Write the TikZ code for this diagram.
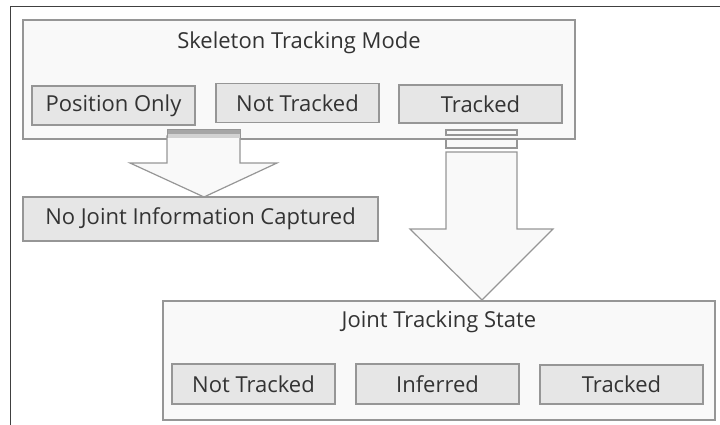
\documentclass[tikz,border=0pt]{standalone}
\usepackage{fontspec}
\setmainfont{Open Sans}
\definecolor{frameline}{HTML}{404040}
\definecolor{boxline}{HTML}{969696}
\definecolor{outerfill}{HTML}{F9F9F9}
\definecolor{innerfill}{HTML}{E6E6E6}
\definecolor{txt}{HTML}{333333}
\definecolor{barfill}{HTML}{A6A6A6}
\tikzset{
  outerbox/.style={draw=boxline, fill=outerfill, line width=1.2pt, inner sep=0pt},
  innerbox/.style={draw=boxline, fill=innerfill, line width=1.2pt, inner sep=0pt, text=txt, font=\fontsize{22}{25}\selectfont},
  label/.style={text=txt, font=\fontsize{22}{25}\selectfont, inner sep=0pt},
  blockarrow/.style={draw=boxline, fill=outerfill, line width=1.2pt, line join=miter},
}
\begin{document}
\begin{tikzpicture}[x=1pt,y=-1pt]
\useasboundingbox (0,0) rectangle (720,425);
% frame (top and left lines)
\draw[frameline, line width=1.5pt] (10.5,425) -- (10.5,6.5) -- (720,6.5);
% top box
\node[outerbox, minimum width=552pt, minimum height=119pt] (top) at (299,79.5) {};
\node[label] (toptitle) at (299,43) {Skeleton Tracking Mode};
\node[innerbox, minimum width=163pt, minimum height=39pt] (pos) at (113.5,105.5) {Position Only};
\node[innerbox, minimum width=163pt, minimum height=39pt] (nt1) at (297.5,103) {Not Tracked};
\node[innerbox, minimum width=163pt, minimum height=38pt] (tr1) at (480.5,104) {Tracked};
% no joint box
\node[innerbox, minimum width=355pt, minimum height=44pt] (nojoint) at (200.5,219) {No Joint Information Captured};
% bottom box
\node[outerbox, minimum width=552pt, minimum height=119pt] (bottom) at (439,360.5) {};
\node[label] (bottitle) at (439,322) {Joint Tracking State};
\node[innerbox, minimum width=163pt, minimum height=40pt] (nt2) at (253.5,384) {Not Tracked};
\node[innerbox, minimum width=163pt, minimum height=40pt] (inf) at (437.5,384) {Inferred};
\node[innerbox, minimum width=163pt, minimum height=39pt] (tr2) at (621.5,384.5) {Tracked};
% left block arrow (from Position Only area down to the no-joint box)
\draw[blockarrow] (167,136) -- (167,163) -- (130,163) -- (204,197) -- (277,163) -- (240,163) -- (240,136) -- cycle;
\draw[draw=boxline, fill=barfill, line width=1pt] (167,130) rectangle (240,134.5);
\fill[innerfill!80!gray] (167,134.5) rectangle (240,138.5);
\draw[boxline, line width=1pt] (167,130) -- (167,138.5) (240,130) -- (240,138.5);
% right block arrow (from Tracked down to the joint tracking state box)
\draw[blockarrow] (446,152) -- (446,229) -- (410,229) -- (482,300) -- (553,229) -- (517,229) -- (517,152) -- cycle;
\draw[draw=boxline, fill=outerfill, line width=1.2pt] (446,130) rectangle (517,135);
\draw[draw=boxline, fill=outerfill, line width=1.2pt] (446,139) rectangle (517,148);
\end{tikzpicture}
\end{document}
